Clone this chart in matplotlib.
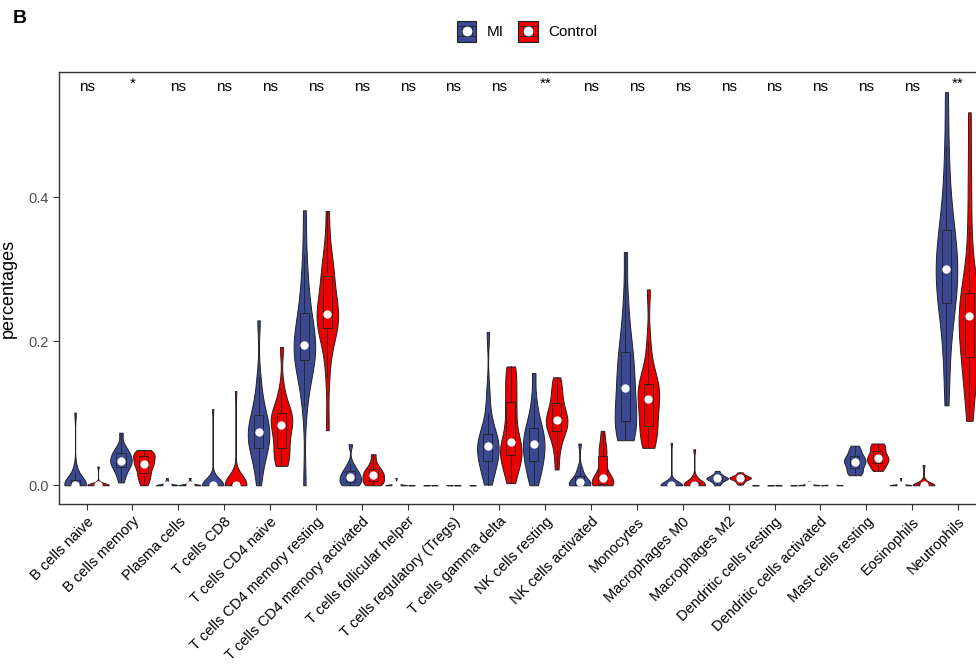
"""Immune cell fractions per sample: violin + box plot, MI vs Control."""

import numpy as np
import matplotlib
matplotlib.use("Agg")
import matplotlib.pyplot as plt
from matplotlib.patches import Rectangle
from matplotlib.lines import Line2D

plt.rcParams["font.family"] = ["Liberation Sans", "DejaVu Sans"]

cell_types = [
    "B cells naive", "B cells memory", "Plasma cells", "T cells CD8",
    "T cells CD4 naive", "T cells CD4 memory resting",
    "T cells CD4 memory activated", "T cells follicular helper",
    "T cells regulatory (Tregs)", "T cells gamma delta", "NK cells resting",
    "NK cells activated", "Monocytes", "Macrophages M0", "Macrophages M2",
    "Dendritic cells resting", "Dendritic cells activated",
    "Mast cells resting", "Eosinophils", "Neutrophils",
]

signif = ["ns", "*", "ns", "ns", "ns", "ns", "ns", "ns", "ns", "ns",
          "**", "ns", "ns", "ns", "ns", "ns", "ns", "ns", "ns", "**"]

groups = ["MI", "Control"]

# per-sample fractions, one list per cell type
mi_values = [
    [0, 0, 0, 0, 0, 0, 0, 0, 0, 0.001, 0.002, 0.003, 0.005, 0.008, 0.012, 0.018, 0.025, 0.101],
    [0.004, 0.012, 0.018, 0.022, 0.026, 0.029, 0.031, 0.033, 0.035, 0.038, 0.041, 0.044, 0.046, 0.05, 0.056, 0.073],
    [0, 0, 0, 0, 0, 0, 0, 0, 0, 0, 0.001, 0.002, 0.003, 0.005, 0.007, 0.01],
    [0, 0, 0, 0, 0, 0, 0, 0, 0, 0, 0, 0, 0, 0, 0, 0, 0, 0, 0.001, 0.106],
    [0.0, 0.02, 0.035, 0.045, 0.051, 0.056, 0.062, 0.067, 0.072, 0.075, 0.08, 0.086, 0.093, 0.1, 0.11, 0.125, 0.15, 0.229],
    [0.0, 0.11, 0.14, 0.16, 0.172, 0.178, 0.183, 0.188, 0.192, 0.197, 0.205, 0.215, 0.23, 0.243, 0.26, 0.285, 0.32, 0.382],
    [0, 0.001, 0.002, 0.004, 0.007, 0.01, 0.012, 0.014, 0.017, 0.02, 0.023, 0.03, 0.057],
    [0, 0, 0, 0, 0, 0, 0, 0, 0, 0, 0, 0, 0, 0, 0.001, 0.01],
    [0, 0, 0, 0, 0, 0, 0, 0, 0, 0, 0, 0, 0, 0, 0.0005, 0.002],
    [0.001, 0.012, 0.022, 0.03, 0.034, 0.04, 0.046, 0.05, 0.054, 0.058, 0.062, 0.066, 0.071, 0.08, 0.1, 0.13, 0.213],
    [0.0, 0.01, 0.02, 0.028, 0.034, 0.04, 0.046, 0.052, 0.057, 0.062, 0.068, 0.074, 0.08, 0.088, 0.1, 0.12, 0.156],
    [0, 0, 0, 0, 0.001, 0.002, 0.004, 0.006, 0.009, 0.013, 0.018, 0.025, 0.058],
    [0.0626, 0.066, 0.072, 0.08, 0.088, 0.095, 0.105, 0.118, 0.13, 0.14, 0.15, 0.162, 0.175, 0.188, 0.2, 0.225, 0.26, 0.324],
    [0, 0, 0, 0, 0, 0, 0, 0, 0, 0, 0, 0, 0, 0, 0, 0, 0.001, 0.059],
    [0, 0.003, 0.005, 0.007, 0.008, 0.009, 0.0097, 0.01, 0.011, 0.012, 0.014, 0.016, 0.02],
    [0, 0, 0, 0, 0, 0, 0, 0, 0, 0, 0, 0, 0, 0, 0, 0.0005],
    [0, 0, 0, 0, 0, 0, 0, 0, 0, 0, 0.001, 0.002, 0.003, 0.004, 0.006],
    [0.014, 0.017, 0.02, 0.024, 0.028, 0.031, 0.033, 0.035, 0.038, 0.041, 0.045, 0.05, 0.055],
    [0, 0, 0, 0, 0, 0, 0, 0, 0, 0, 0, 0, 0, 0, 0, 0.001, 0.01],
    [0.111, 0.16, 0.2, 0.23, 0.246, 0.26, 0.272, 0.284, 0.292, 0.3, 0.31, 0.322, 0.335, 0.348, 0.36, 0.385, 0.42, 0.47, 0.546],
]

control_values = [
    [0, 0, 0, 0, 0, 0, 0, 0, 0, 0, 0, 0, 0.001, 0.002, 0.004, 0.026],
    [0.0, 0.006, 0.012, 0.015, 0.02, 0.025, 0.028, 0.03, 0.033, 0.036, 0.04, 0.042, 0.044, 0.046, 0.049],
    [0, 0, 0, 0, 0, 0, 0, 0, 0, 0, 0.001, 0.002, 0.003, 0.004, 0.006, 0.01],
    [0, 0, 0, 0, 0, 0, 0, 0, 0, 0, 0.001, 0.002, 0.003, 0.005, 0.007, 0.008, 0.131],
    [0.027, 0.03, 0.036, 0.045, 0.052, 0.06, 0.07, 0.078, 0.084, 0.088, 0.092, 0.096, 0.1, 0.106, 0.115, 0.135, 0.192],
    [0.0765, 0.15, 0.19, 0.21, 0.219, 0.225, 0.23, 0.235, 0.238, 0.245, 0.255, 0.27, 0.29, 0.296, 0.305, 0.33, 0.381],
    [0, 0.002, 0.004, 0.006, 0.009, 0.012, 0.014, 0.016, 0.019, 0.022, 0.025, 0.032, 0.043],
    [0, 0, 0, 0, 0, 0, 0, 0, 0, 0, 0, 0, 0, 0, 0.0005, 0.001],
    [0, 0, 0, 0, 0, 0, 0, 0, 0, 0, 0, 0, 0, 0, 0.0003, 0.0008],
    [0.003, 0.015, 0.028, 0.038, 0.042, 0.047, 0.05, 0.053, 0.06, 0.075, 0.09, 0.105, 0.116, 0.13, 0.145, 0.16, 0.165],
    [0.022, 0.045, 0.06, 0.07, 0.075, 0.08, 0.085, 0.088, 0.091, 0.095, 0.1, 0.106, 0.114, 0.122, 0.132, 0.142, 0.15],
    [0, 0, 0.001, 0.001, 0.003, 0.006, 0.008, 0.01, 0.015, 0.025, 0.035, 0.045, 0.05, 0.06, 0.0755],
    [0.052, 0.058, 0.066, 0.075, 0.082, 0.092, 0.102, 0.112, 0.12, 0.126, 0.132, 0.137, 0.141, 0.15, 0.165, 0.2, 0.272],
    [0, 0, 0, 0, 0, 0, 0, 0, 0.001, 0.002, 0.003, 0.005, 0.008, 0.012, 0.05],
    [0.001, 0.004, 0.006, 0.008, 0.009, 0.01, 0.01, 0.011, 0.012, 0.013, 0.015, 0.018],
    [0, 0, 0, 0, 0, 0, 0, 0, 0, 0, 0, 0, 0, 0, 0, 0.0003],
    [0, 0, 0, 0, 0, 0, 0, 0, 0, 0, 0.001, 0.002, 0.003, 0.004],
    [0.02, 0.024, 0.028, 0.031, 0.034, 0.036, 0.038, 0.041, 0.044, 0.048, 0.052, 0.056, 0.058],
    [0, 0, 0, 0, 0, 0, 0, 0, 0.001, 0.002, 0.003, 0.005, 0.008, 0.028],
    [0.0895, 0.12, 0.145, 0.165, 0.175, 0.19, 0.205, 0.22, 0.231, 0.238, 0.245, 0.25, 0.256, 0.27, 0.3, 0.36, 0.43, 0.518],
]

MI_COLOR = "#3B4992"
CTRL_COLOR = "#EE0000"
EDGE = "#222222"


def draw_group(ax, data, positions, color):
    parts = ax.violinplot(data, positions=positions, widths=0.47,
                          showextrema=False, bw_method=0.4)
    for body in parts["bodies"]:
        body.set_facecolor(color)
        body.set_edgecolor(EDGE)
        body.set_linewidth(0.7)
        body.set_alpha(1)
        body.set_zorder(2)
    ax.boxplot(data, positions=positions, widths=0.2, patch_artist=True,
               showfliers=False, showcaps=False, manage_ticks=False,
               boxprops=dict(facecolor=color, edgecolor=EDGE, linewidth=0.6),
               whiskerprops=dict(color=EDGE, linewidth=0.6),
               medianprops=dict(visible=False), zorder=3)
    medians = [np.median(d) for d in data]
    ax.plot(positions, medians, "o", color="white", ms=6, mec="none", zorder=4)


class ViolinKey:
    """Legend key: filled violin box, inner boxplot outline, white median dot."""

    def __init__(self, color):
        self.color = color

    def legend_artist(self, legend, orig_handle, fontsize, handlebox):
        x0, y0 = -handlebox.xdescent, -handlebox.ydescent
        w, h = handlebox.width, handlebox.height
        tr = handlebox.get_transform()
        outer = Rectangle((x0, y0), w, h, facecolor=self.color, edgecolor=EDGE,
                          linewidth=0.8, transform=tr)
        handlebox.add_artist(outer)
        inner = Rectangle((x0 + 0.25 * w, y0 + 0.25 * h), 0.5 * w, 0.5 * h,
                          facecolor="none", edgecolor=EDGE, linewidth=0.6,
                          transform=tr)
        handlebox.add_artist(inner)
        for yy in (0.25, 0.75):
            handlebox.add_artist(Line2D([x0, x0 + w], [y0 + yy * h] * 2,
                                        color=EDGE, lw=0.5, transform=tr))
        handlebox.add_artist(Line2D([x0 + w / 2], [y0 + h / 2], marker="o",
                                    color="white", ms=7, mec="none", ls="none",
                                    transform=tr))
        return outer


fig = plt.figure(figsize=(9.76, 6.65), dpi=100)
ax = fig.add_axes([0.0605, 0.2421, 0.9492, 0.6496])

x = np.arange(1, len(cell_types) + 1)
draw_group(ax, mi_values, x - 0.25, MI_COLOR)
draw_group(ax, control_values, x + 0.25, CTRL_COLOR)

for xi, s in zip(x, signif):
    ax.text(xi, 0.557 if "*" in s else 0.553, s, ha="center", va="center",
            fontsize=11, color="black")

ax.set_xlim(0.4, len(cell_types) + 0.6)
ax.set_ylim(-0.026, 0.574)
ax.set_xticks(x)
ax.set_xticklabels(cell_types, rotation=45, ha="right", rotation_mode="anchor",
                   fontsize=10.5, color="black")
ax.set_yticks([0.0, 0.2, 0.4])
ax.set_yticklabels(["0.0", "0.2", "0.4"], fontsize=10.5, color="#4d4d4d")
ax.tick_params(axis="both", length=4, width=0.8, color="#333333")
ax.set_ylabel("percentages", fontsize=13, labelpad=8)
for sp in ax.spines.values():
    sp.set_color("#333333")
    sp.set_linewidth(1.0)

keys = [Rectangle((0, 0), 1, 1), Rectangle((0, 0), 1, 1)]
fig.legend(keys, groups, loc="center", bbox_to_anchor=(0.54, 0.953), ncol=2,
           frameon=False, fontsize=11, handlelength=1.3, handleheight=1.7,
           handletextpad=0.7, columnspacing=0.9,
           handler_map={keys[0]: ViolinKey(MI_COLOR), keys[1]: ViolinKey(CTRL_COLOR)})

fig.text(0.013, 0.972, "B", fontsize=14, fontweight="bold", va="center")

fig.savefig("out.png", dpi=100)
